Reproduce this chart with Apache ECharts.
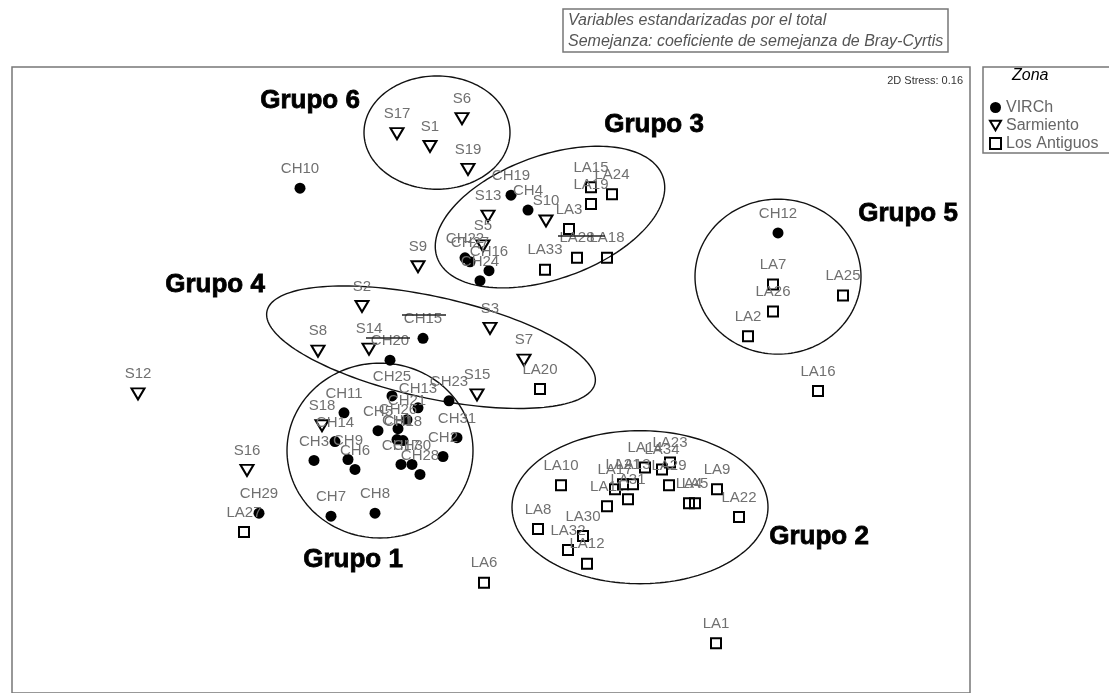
<!DOCTYPE html>
<html>
<head>
<meta charset="utf-8">
<script src="https://cdn.jsdelivr.net/npm/echarts/dist/echarts.min.js"></script>
<style>
  html, body { margin: 0; padding: 0; background: #fff; }
  #chart { width: 1109px; height: 693px; }
</style>
</head>
<body>
<div id="chart"></div>
<script>
// 2D NMDS ordination of sampling sites, Bray-Curtis similarity on standardised variables.

// Zona: VIRCh
const virchNames = ['CH10','CH19','CH4','CH22','CH27','CH16','CH24','CH15','CH20','CH12','CH29','CH25','CH13','CH23','CH11','CH21','CH26','CH5','CH14','CH3','CH9','CH6','CH1','CH18','CH31','CH2','CH17','CH30','CH28','CH7','CH8'];
const virchX = [-1.92,0.19,0.36,-0.27,-0.22,-0.03,-0.12,-0.69,-1.02,2.86,-2.33,-1.00,-0.74,-0.43,-1.48,-0.85,-0.94,-1.14,-1.57,-1.78,-1.44,-1.37,-0.95,-0.89,-0.35,-0.49,-0.91,-0.80,-0.72,-1.61,-1.17];
const virchY = [1.91,1.84,1.69,1.21,1.17,1.08,0.98,0.40,0.18,1.46,-1.36,-0.18,-0.30,-0.23,-0.35,-0.42,-0.51,-0.53,-0.64,-0.83,-0.82,-0.92,-0.62,-0.63,-0.60,-0.79,-0.87,-0.87,-0.97,-1.39,-1.36];

// Zona: Sarmiento
const sarmNames = ['S17','S1','S6','S19','S13','S5','S10','S9','S2','S3','S7','S8','S14','S15','S12','S16','S18'];
const sarmX = [-0.95,-0.62,-0.30,-0.24,-0.04,-0.09,0.54,-0.74,-1.30,-0.02,0.32,-1.74,-1.23,-0.15,-3.54,-2.45,-1.70];
const sarmY = [2.46,2.33,2.61,2.10,1.63,1.33,1.58,1.12,0.72,0.50,0.18,0.27,0.29,-0.17,-0.16,-0.93,-0.48];

// Zona: Los Antiguos
const laNames = ['LA15','LA19','LA24','LA3','LA28','LA18','LA33','LA7','LA26','LA2','LA25','LA16','LA20','LA10','LA8','LA30','LA32','LA12','LA11','LA17','LA21','LA13','LA31','LA14','LA34','LA23','LA29','LA4','LA5','LA9','LA22','LA6','LA1','LA27'];
const laX = [0.99,0.99,1.20,0.77,0.85,1.15,0.53,2.81,2.81,2.56,3.51,3.26,0.48,0.69,0.46,0.91,0.76,0.95,1.15,1.23,1.31,1.41,1.36,1.53,1.70,1.78,1.77,1.97,2.03,2.25,2.47,-0.08,2.24,-2.48];
const laY = [1.92,1.75,1.85,1.50,1.21,1.21,1.09,0.94,0.67,0.42,0.83,-0.13,-0.11,-1.08,-1.52,-1.59,-1.73,-1.87,-1.29,-1.12,-1.07,-1.07,-1.22,-0.90,-0.92,-0.85,-1.08,-1.26,-1.26,-1.12,-1.40,-2.06,-2.67,-1.55];

// Group ellipses in ordination space: centre, semi-axes, rotation (degrees)
const groupNames = ['Grupo 1','Grupo 2','Grupo 3','Grupo 4','Grupo 5','Grupo 6'];
const groupCx = [-1.12, 1.48, 0.58, -0.61, 2.86, -0.55];
const groupCy = [-0.73, -1.30, 1.62, 0.31, 1.02, 2.47];
const groupRx = [0.93, 1.28, 1.20, 1.68, 0.83, 0.73];
const groupRy = [0.88, 0.77, 0.62, 0.51, 0.78, 0.57];
const groupAngle = [0, 0, 20, -12.5, 0, 0];

// Short rules crossing some overlapping labels
const strikeFrom = [[-0.90, 0.64], [-1.26, 0.41], [0.66, 1.43]];
const strikeTo = [[-0.46, 0.64], [-0.82, 0.41], [1.13, 1.43]];

const stressText = '2D Stress: 0.16';
const noteLines = ['Variables estandarizadas por el total', 'Semejanza: coeficiente de semejanza de Bray-Cyrtis'];

const FONT = '"Liberation Sans", Arial, sans-serif';
const labelStyle = {
  show: true, position: 'top', distance: 6, formatter: '{b}',
  color: '#707070', fontSize: 15, fontFamily: FONT
};

function pts(names, xs, ys) {
  return names.map((n, i) => ({ name: n, value: [xs[i], ys[i]] }));
}

const chart = echarts.init(document.getElementById('chart'), null, { renderer: 'canvas' });

const option = {
  animation: false,
  backgroundColor: '#fff',
  grid: {
    left: 12, top: 67, width: 958, height: 630,
    show: true, borderColor: '#777', borderWidth: 1.5, backgroundColor: 'transparent'
  },
  xAxis: { type: 'value', min: -4.80, max: 4.78, show: false },
  yAxis: { type: 'value', min: -3.17, max: 3.13, show: false },
  legend: {
    left: 984, top: 94, orient: 'vertical', itemGap: 1,
    itemWidth: 11, itemHeight: 11,
    textStyle: { color: '#666', fontSize: 16, fontFamily: FONT, lineHeight: 17 },
    data: ['VIRCh', 'Sarmiento', 'Los Antiguos']
  },
  graphic: [
    { type: 'rect', shape: { x: 563, y: 9, width: 385, height: 43 },
      style: { fill: 'none', stroke: '#777', lineWidth: 1.5 } },
    { type: 'text', left: 568, top: 10,
      style: { text: noteLines.join('\n'), fill: '#555', font: 'italic 16px ' + FONT, lineHeight: 21 } },
    { type: 'rect', shape: { x: 983, y: 67, width: 140, height: 86 },
      style: { fill: 'none', stroke: '#777', lineWidth: 1.5 } },
    { type: 'text', left: 1012, top: 68,
      style: { text: 'Zona', fill: '#000', font: 'italic 16px ' + FONT } },
    { type: 'text', right: 1109 - 963, top: 75,
      style: { text: stressText, fill: '#333', font: '11px ' + FONT, textAlign: 'right' } },
    ...[[353, 560], [819, 537], [654, 125], [215, 285], [908, 214], [310, 101]].map((p, i) => ({
      type: 'text', x: p[0], y: p[1],
      style: { text: groupNames[i], fill: '#000', stroke: '#000', lineWidth: 0.8,
        font: 'bold 26px ' + FONT, textAlign: 'center', textVerticalAlign: 'middle' }
    }))
  ],
  series: [
    {
      type: 'custom', coordinateSystem: 'cartesian2d', silent: true, z: 1,
      data: groupNames.map((n, i) => [groupCx[i], groupCy[i], groupRx[i], groupRy[i], groupAngle[i]]),
      encode: { x: 0, y: 1 },
      renderItem: function (params, api) {
        const cx = api.value(0), cy = api.value(1), rx = api.value(2), ry = api.value(3);
        const a = api.value(4) * Math.PI / 180;
        const points = [];
        for (let k = 0; k <= 160; k++) {
          const t = k / 160 * Math.PI * 2;
          const u = rx * Math.cos(t), v = ry * Math.sin(t);
          points.push(api.coord([cx + u * Math.cos(a) - v * Math.sin(a), cy + u * Math.sin(a) + v * Math.cos(a)]));
        }
        return { type: 'polygon', shape: { points: points },
          style: { fill: 'none', stroke: '#111', lineWidth: 1.4 } };
      }
    },
    {
      type: 'lines', coordinateSystem: 'cartesian2d', silent: true, z: 4,
      data: strikeFrom.map((f, i) => ({ coords: [f, strikeTo[i]] })),
      lineStyle: { color: '#222', width: 1.5, opacity: 1 }
    },
    {
      name: 'VIRCh', type: 'scatter', z: 3,
      symbol: 'circle', symbolSize: 11,
      itemStyle: { color: '#000', opacity: 1 },
      label: labelStyle,
      data: pts(virchNames, virchX, virchY)
    },
    {
      name: 'Sarmiento', type: 'scatter', z: 3,
      symbol: 'path://M0,0 L20,0 L10,17 Z', symbolSize: [13, 11],
      itemStyle: { color: 'rgba(0,0,0,0)', borderColor: '#000', borderWidth: 2, opacity: 1 },
      label: labelStyle,
      data: pts(sarmNames, sarmX, sarmY)
    },
    {
      name: 'Los Antiguos', type: 'scatter', z: 3,
      symbol: 'rect', symbolSize: 10,
      itemStyle: { color: 'rgba(0,0,0,0)', borderColor: '#000', borderWidth: 2, opacity: 1 },
      label: labelStyle,
      data: pts(laNames, laX, laY)
    }
  ]
};

chart.setOption(option);
</script>
</body>
</html>
